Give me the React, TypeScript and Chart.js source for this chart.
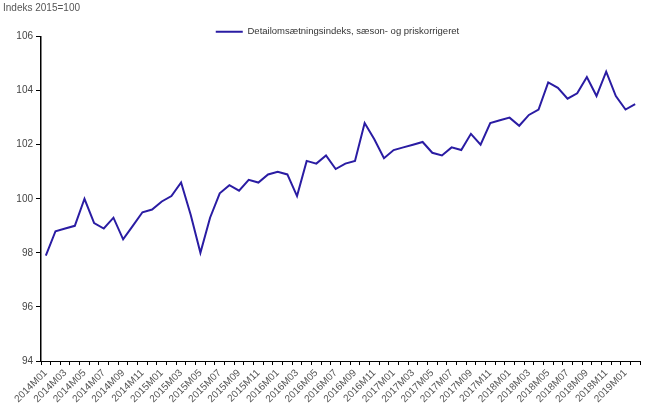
import React, { useEffect, useRef } from "react";
import { Chart, registerables } from "chart.js";

Chart.register(...registerables);

const years = [2014, 2015, 2016, 2017, 2018];
const months = ["01", "02", "03", "04", "05", "06", "07", "08", "09", "10", "11", "12"];
const categories: string[] = [];
years.forEach((y) => months.forEach((m) => categories.push(`${y}M${m}`)));
categories.push("2019M01", "2019M02");

const seriesName = "Detailomsætningsindeks, sæson- og priskorrigeret";
const values = [
  97.9, 98.8, 98.9, 99.0, 100.0, 99.1, 98.9, 99.3, 98.5, 99.0, 99.5, 99.6,
  99.9, 100.1, 100.6, 99.4, 98.0, 99.3, 100.2, 100.5, 100.3, 100.7, 100.6, 100.9,
  101.0, 100.9, 100.1, 101.4, 101.3, 101.6, 101.1, 101.3, 101.4, 102.8, 102.2, 101.5,
  101.8, 101.9, 102.0, 102.1, 101.7, 101.6, 101.9, 101.8, 102.4, 102.0, 102.8, 102.9,
  103.0, 102.7, 103.1, 103.3, 104.3, 104.1, 103.7, 103.9, 104.5, 103.8, 104.7, 103.8,
  103.3, 103.5,
];
const yTitle = "Indeks 2015=100";
const yMin = 94;
const yMax = 106;
const yStep = 2;

const legendShift = {
  id: "legendShift",
  afterLayout(chart: any) {
    const lg = chart.legend;
    if (!lg) return;
    const dx = 16;
    const dy = 10;
    lg.left += dx;
    lg.right += dx;
    lg.top += dy;
    lg.bottom += dy;
  },
};

export default function App() {
  const ref = useRef<HTMLCanvasElement>(null);
  useEffect(() => {
    document.body.style.margin = "0";
    const font = "'Liberation Sans', Arial, sans-serif";
    const chart = new Chart(ref.current!, {
      type: "line",
      data: {
        labels: categories,
        datasets: [
          {
            label: seriesName,
            data: values,
            borderColor: "#2a1ca3",
            backgroundColor: "#2a1ca3",
            borderWidth: 2,
            pointRadius: 0,
            tension: 0,
          },
        ],
      },
      plugins: [legendShift],
      options: {
        animation: false,
        responsive: false,
        layout: { padding: { left: 3, right: 10, top: 0, bottom: 0 } },
        plugins: {
          title: {
            display: true,
            text: yTitle,
            align: "start",
            color: "#555",
            font: { family: font, size: 10, weight: "normal" },
            padding: { top: 2, bottom: 0 },
          },
          legend: {
            display: true,
            labels: {
              usePointStyle: true,
              pointStyle: "line",
              pointStyleWidth: 27,
              boxWidth: 27,
              padding: 3,
              color: "#333",
              font: { family: font, size: 9.5 },
            },
          },
          tooltip: { enabled: false },
        },
        scales: {
          x: {
            offset: true,
            grid: {
              offset: true,
              drawOnChartArea: false,
              drawTicks: true,
              tickLength: 4,
              color: "#000",
            },
            border: { color: "#000", width: 1 },
            ticks: {
              autoSkip: false,
              maxRotation: 45,
              minRotation: 45,
              padding: 2,
              color: "#555",
              font: { family: font, size: 10 },
              callback: (_v: any, i: number) => (i % 2 === 0 ? categories[i] : ""),
            },
          },
          y: {
            min: yMin,
            max: yMax,
            afterFit: (s: any) => {
              s.width = 38;
            },
            grid: { drawOnChartArea: false, drawTicks: true, tickLength: 5, color: "#000" },
            border: { color: "#000", width: 1.5 },
            ticks: {
              stepSize: yStep,
              color: "#444",
              font: { family: font, size: 10 },
            },
          },
        },
      },
    });
    return () => chart.destroy();
  }, []);
  return <canvas ref={ref} width={650} height={407} />;
}
